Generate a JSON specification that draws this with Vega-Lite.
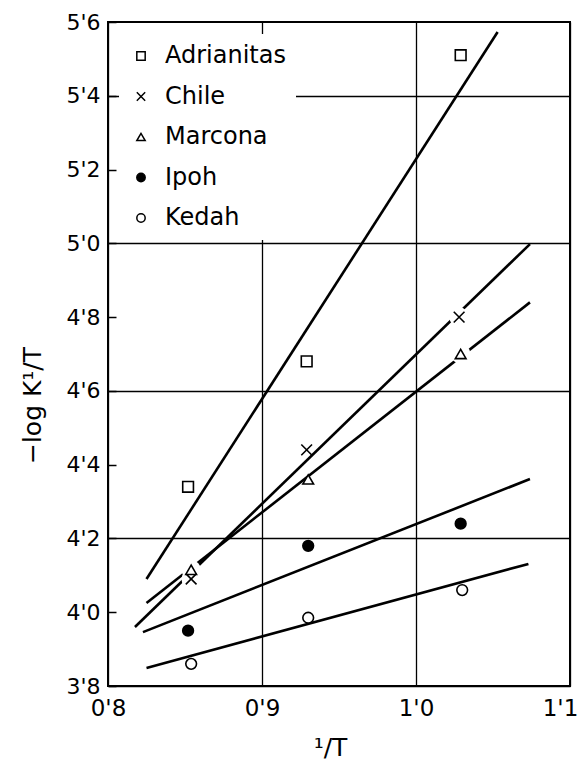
{
  "$schema": "https://vega.github.io/schema/vega-lite/v6.json",
  "autosize": {"type": "none"},
  "padding": {"left": 108, "top": 22, "right": 11, "bottom": 78},
  "width": 462,
  "height": 664,
  "background": "white",
  "config": {"view": {"stroke": "black", "strokeWidth": 2}, "font": "DejaVu Sans"},
  "datasets": {
    "points": [
      {"series": "Adrianitas", "x": 0.852, "y": 4.34},
      {"series": "Adrianitas", "x": 0.929, "y": 4.68},
      {"series": "Adrianitas", "x": 1.029, "y": 5.51},
      {"series": "Chile", "x": 0.854, "y": 4.09},
      {"series": "Chile", "x": 0.929, "y": 4.44},
      {"series": "Chile", "x": 1.028, "y": 4.80},
      {"series": "Marcona", "x": 0.854, "y": 4.115},
      {"series": "Marcona", "x": 0.930, "y": 4.36},
      {"series": "Marcona", "x": 1.029, "y": 4.70},
      {"series": "Ipoh", "x": 0.852, "y": 3.95},
      {"series": "Ipoh", "x": 0.930, "y": 4.18},
      {"series": "Ipoh", "x": 1.029, "y": 4.24},
      {"series": "Kedah", "x": 0.854, "y": 3.86},
      {"series": "Kedah", "x": 0.930, "y": 3.985},
      {"series": "Kedah", "x": 1.030, "y": 4.06}
    ],
    "fits": [
      {"series": "Adrianitas", "x": 0.825, "y": 4.09},
      {"series": "Adrianitas", "x": 1.053, "y": 5.573},
      {"series": "Chile", "x": 0.8175, "y": 3.96},
      {"series": "Chile", "x": 1.074, "y": 4.998},
      {"series": "Marcona", "x": 0.825, "y": 4.025},
      {"series": "Marcona", "x": 1.074, "y": 4.84},
      {"series": "Ipoh", "x": 0.8227, "y": 3.946},
      {"series": "Ipoh", "x": 1.074, "y": 4.361},
      {"series": "Kedah", "x": 0.825, "y": 3.849},
      {"series": "Kedah", "x": 1.073, "y": 4.131}
    ]
  },
  "encoding": {
    "x": {
      "field": "x", "type": "quantitative",
      "scale": {"domain": [0.8, 1.1], "nice": false, "zero": false},
      "axis": {
        "values": [0.8, 0.9, 1.0, 1.1],
        "labelExpr": "replace(format(datum.value,'.1f'),'.',\"'\")",
        "labelFont": "DejaVu Sans", "labelFontSize": 23, "labelColor": "black",
        "labelPadding": 11, "labelFlush": false, "labelOverlap": false, "labelBound": false,
        "labelOffset": {"condition": {"test": "datum.value > 1.05", "value": -10}, "value": 0},
        "ticks": false, "domain": false,
        "grid": true, "gridColor": "black", "gridWidth": 1.3, "gridOpacity": 1,
        "title": "¹/T", "titleFont": "DejaVu Sans", "titleFontSize": 25, "titleFontWeight": "normal", "titleColor": "black",
        "titleX": 222, "titleY": 61, "titleAlign": "center", "titleBaseline": "middle"
      }
    },
    "y": {
      "field": "y", "type": "quantitative",
      "scale": {"domain": [3.8, 5.6], "nice": false, "zero": false},
      "axis": {
        "values": [3.8, 4.0, 4.2, 4.4, 4.6, 4.8, 5.0, 5.2, 5.4, 5.6],
        "labelExpr": "replace(format(datum.value,'.1f'),'.',\"'\")",
        "labelFont": "DejaVu Sans", "labelFontSize": 22, "labelColor": "black",
        "labelPadding": 16, "labelFlush": false, "labelOverlap": false,
        "ticks": true, "tickSize": -8, "tickColor": "black", "tickWidth": 1.5,
        "domain": false,
        "grid": true, "gridColor": "black", "gridWidth": 1.3,
        "gridOpacity": {"condition": {"test": "round(datum.value*10)%4==2", "value": 1}, "value": 0},
        "title": "−log K¹/T", "titleFont": "DejaVu Sans", "titleFontSize": 25, "titleFontWeight": "normal", "titleColor": "black",
        "titleAngle": -90, "titleX": -76, "titleY": 383, "titleAlign": "center", "titleBaseline": "middle"
      }
    }
  },
  "layer": [
    {
      "data": {"name": "fits"},
      "mark": {"type": "line", "color": "black", "strokeWidth": 2.6},
      "encoding": {"detail": {"field": "series", "type": "nominal"}}
    },
    {
      "data": {"name": "points"},
      "transform": [{"filter": "(datum.series=='Chile'||datum.series=='Marcona') && (datum.x<0.9||datum.x>1)"}],
      "mark": {"type": "point", "shape": "circle", "filled": true, "color": "white", "opacity": 1, "size": 380}
    },
    {
      "data": {"name": "points"},
      "mark": {"type": "point", "filled": true, "strokeWidth": 1.6, "opacity": 1, "size": 115},
      "encoding": {
        "shape": {
          "field": "series", "type": "nominal",
          "scale": {"domain": ["Adrianitas", "Chile", "Marcona", "Ipoh", "Kedah"],
                    "range": ["square", "M-1,-1L1,1M-1,1L1,-1", "triangle-up", "circle", "circle"]},
          "legend": {"title": null, "orient": "none", "legendX": 11, "legendY": 12, "fillColor": "white",
                     "padding": 10, "rowPadding": 16.5, "labelFont": "DejaVu Sans", "labelFontSize": 24, "labelColor": "black",
                     "labelOffset": 12, "labelLimit": 300, "symbolSize": 70, "symbolStrokeWidth": 1.5}
        },
        "fill": {
          "field": "series", "type": "nominal",
          "scale": {"domain": ["Adrianitas", "Chile", "Marcona", "Ipoh", "Kedah"],
                    "range": ["white", "white", "white", "black", "white"]},
          "legend": {"title": null, "orient": "none", "legendX": 11, "legendY": 12, "fillColor": "white",
                     "padding": 10, "rowPadding": 16.5, "labelFont": "DejaVu Sans", "labelFontSize": 24, "labelColor": "black",
                     "labelOffset": 12, "labelLimit": 300, "symbolSize": 70, "symbolStrokeWidth": 1.5}
        },
        "stroke": {
          "field": "series", "type": "nominal",
          "scale": {"domain": ["Adrianitas", "Chile", "Marcona", "Ipoh", "Kedah"],
                    "range": ["black", "black", "black", "black", "black"]},
          "legend": {"title": null, "orient": "none", "legendX": 11, "legendY": 12, "fillColor": "white",
                     "padding": 10, "rowPadding": 16.5, "labelFont": "DejaVu Sans", "labelFontSize": 24, "labelColor": "black",
                     "labelOffset": 12, "labelLimit": 300, "symbolSize": 70, "symbolStrokeWidth": 1.5}
        }
      }
    }
  ]
}
